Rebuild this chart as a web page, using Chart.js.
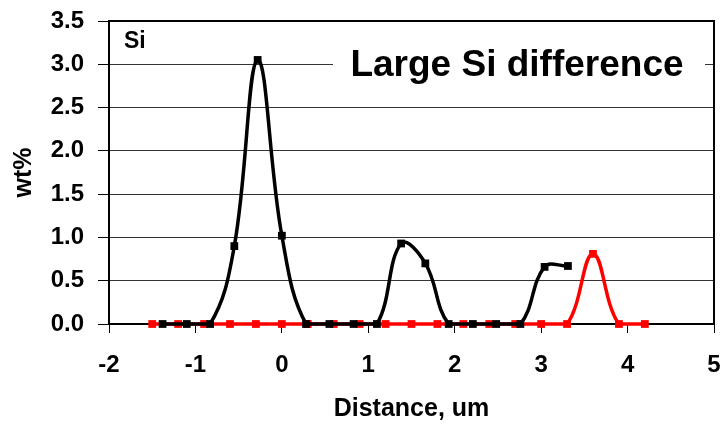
<!DOCTYPE html>
<html>
<head>
<meta charset="utf-8">
<script src="https://cdn.jsdelivr.net/npm/chart.js@4"></script>
<style>
  html, body { margin: 0; padding: 0; background: #fff; }
  #wrap { width: 725px; height: 424px; }
</style>
</head>
<body>
<div id="wrap"><canvas id="siChart" width="725" height="424"></canvas></div>
<script>
// measured profile (black) and calculated profile (red), Si wt% vs distance
const measuredX = [-1.38, -1.10, -0.83, -0.55, -0.28, 0.00, 0.28, 0.55, 0.83, 1.10, 1.38, 1.66, 1.93, 2.21, 2.48, 2.76, 3.04, 3.31];
const measuredY = [0, 0, 0, 0.90, 3.05, 1.02, 0, 0, 0, 0, 0.93, 0.70, 0, 0, 0, 0, 0.66, 0.67];
const calcX = [-1.5, -1.2, -0.9, -0.6, -0.3, 0.0, 0.3, 0.6, 0.9, 1.2, 1.5, 1.8, 2.1, 2.4, 2.7, 3.0, 3.3, 3.6, 3.9, 4.2];
const calcY = [0, 0, 0, 0, 0, 0, 0, 0, 0, 0, 0, 0, 0, 0, 0, 0, 0, 0.81, 0, 0];
const xTicks = [-2, -1, 0, 1, 2, 3, 4, 5];
const yTicks = [0, 0.5, 1.0, 1.5, 2.0, 2.5, 3.0, 3.5];

const FONT = "'Liberation Sans', Arial, sans-serif";

function toPoints(xs, ys) {
    return xs.map((x, i) => ({ x: x, y: ys[i] }));
}

// plot frame, drawn under the lines
const framePlugin = {
    id: 'frame',
    beforeDatasetsDraw(chart) {
        const a = chart.chartArea;
        const ctx = chart.ctx;
        ctx.save();
        ctx.strokeStyle = '#000';
        ctx.lineWidth = 2;
        ctx.strokeRect(a.left, a.top, a.right - a.left, a.bottom - a.top);
        ctx.restore();
    }
};

// "Si" label and the boxed note
const notesPlugin = {
    id: 'notes',
    afterDatasetsDraw(chart) {
        const ctx = chart.ctx;
        ctx.save();
        ctx.fillStyle = '#fff';
        ctx.fillRect(333, 45, 372, 42);
        ctx.fillStyle = '#000';
        ctx.textBaseline = 'middle';
        ctx.textAlign = 'left';
        ctx.font = 'bold 23px ' + FONT;
        ctx.fillText('Si', 124, 42);
        ctx.textAlign = 'center';
        ctx.font = 'bold 37px ' + FONT;
        ctx.fillText('Large Si difference', 517, 66);
        ctx.restore();
    }
};

const ctx = document.getElementById('siChart').getContext('2d');
new Chart(ctx, {
    type: 'scatter',
    data: {
        datasets: [{
            label: 'measured',
            data: toPoints(measuredX, measuredY),
            showLine: true,
            borderColor: '#000',
            backgroundColor: '#000',
            borderWidth: 3.5,
            tension: 0.4,
            pointStyle: 'rect',
            pointRadius: 5.5,
            pointBorderWidth: 0
        }, {
            label: 'calculated',
            data: toPoints(calcX, calcY),
            showLine: true,
            borderColor: '#ff0000',
            backgroundColor: '#ff0000',
            borderWidth: 3.5,
            tension: 0.4,
            pointStyle: 'rect',
            pointRadius: 5.5,
            pointBorderWidth: 0
        }]
    },
    options: {
        responsive: false,
        animation: false,
        clip: false,
        layout: { padding: { top: 21, right: 11, left: 0, bottom: 0 } },
        plugins: {
            legend: { display: false },
            tooltip: { enabled: false }
        },
        scales: {
            x: {
                type: 'linear',
                min: -2,
                max: 5,
                afterBuildTicks: (scale) => { scale.ticks = xTicks.map(v => ({ value: v })); },
                afterFit: (scale) => {
                    scale.height = 100;
                    scale.paddingLeft = 0;
                    scale.paddingRight = 0;
                },
                border: { display: true, color: '#000', width: 2 },
                grid: { drawOnChartArea: false, drawTicks: true, tickLength: 9, tickColor: '#000', lineWidth: 1 },
                ticks: { color: '#000', padding: 18, font: { family: FONT, size: 24, weight: 'bold' } },
                title: {
                    display: true,
                    text: 'Distance, um',
                    color: '#000',
                    padding: { top: 0, bottom: 0 },
                    font: { family: FONT, size: 25, weight: 'bold' }
                }
            },
            y: {
                min: 0,
                max: 3.5,
                afterBuildTicks: (scale) => { scale.ticks = yTicks.map(v => ({ value: v })); },
                afterFit: (scale) => {
                    scale.width = 109;
                    scale.paddingTop = 0;
                    scale.paddingBottom = 0;
                },
                border: { display: true, color: '#000', width: 2 },
                grid: { color: '#333', lineWidth: 1, drawTicks: true, tickLength: 11, tickColor: '#000' },
                ticks: {
                    color: '#000',
                    padding: 14,
                    font: { family: FONT, size: 24, weight: 'bold' },
                    callback: (v) => Number(v).toFixed(1)
                },
                title: {
                    display: true,
                    text: 'wt%',
                    color: '#000',
                    padding: { top: 9, bottom: 0 },
                    font: { family: FONT, size: 25, weight: 'bold' }
                }
            }
        }
    },
    plugins: [framePlugin, notesPlugin]
});
</script>
</body>
</html>
